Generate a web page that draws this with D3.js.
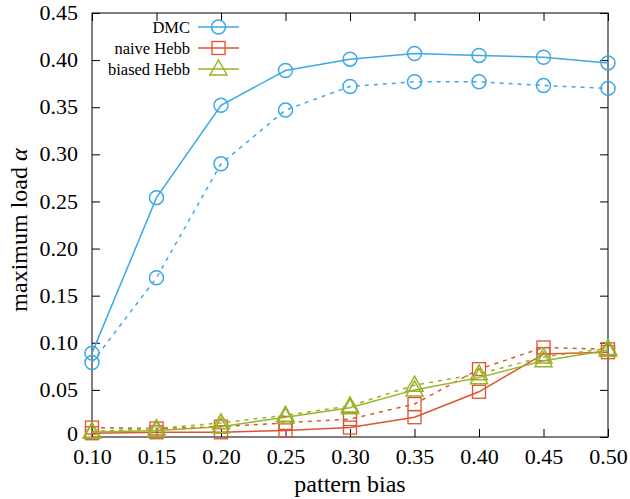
<!DOCTYPE html>
<html><head><meta charset="utf-8">
<script src="https://cdn.jsdelivr.net/npm/d3@7"></script>
<style>body{margin:0;background:#fff}svg{display:block}</style>
</head><body>
<script>
const bias = [0.10,0.15,0.20,0.25,0.30,0.35,0.40,0.45,0.50];
const dmcSolid   = [0.089,0.254,0.352,0.389,0.401,0.407,0.405,0.403,0.397];
const dmcDotted  = [0.079,0.169,0.290,0.347,0.372,0.377,0.377,0.373,0.370];
const naiveSolid = [0.004,0.005,0.005,0.007,0.010,0.021,0.048,0.088,0.090];
const naiveDotted= [0.010,0.009,0.011,0.015,0.019,0.035,0.072,0.095,0.093];
const biasSolid  = [0.005,0.007,0.011,0.021,0.031,0.050,0.063,0.081,0.092];
const biasDotted = [0.006,0.009,0.015,0.023,0.033,0.055,0.067,0.085,0.094];
const xTicks = [0.10,0.15,0.20,0.25,0.30,0.35,0.40,0.45,0.50];
const yTicks = [0,0.05,0.10,0.15,0.20,0.25,0.30,0.35,0.40,0.45];
const legendNames = ["DMC","naive Hebb","biased Hebb"];

const W=630,H=499, L=92, R=608, T=13, B=437;
const blue="#3da8e6", red="#e0532f", green="#9ab12a";
const svg=d3.select("body").append("svg").attr("width",W).attr("height",H);
const x=d3.scaleLinear().domain([0.10,0.50]).range([L,R]);
const y=d3.scaleLinear().domain([0,0.45]).range([B,T]);
const font="'Liberation Serif', 'Times New Roman', serif";

// axes
const tl=8;
const ax=svg.append("g").attr("transform",`translate(0,${B})`)
 .call(d3.axisBottom(x).tickValues(xTicks).tickFormat(d3.format(".2f")).tickSizeInner(-tl).tickSizeOuter(0).tickPadding(11));
const axT=svg.append("g").attr("transform",`translate(0,${T})`)
 .call(d3.axisTop(x).tickValues(xTicks).tickFormat("").tickSizeInner(-tl).tickSizeOuter(0));
const ay=svg.append("g").attr("transform",`translate(${L},0)`)
 .call(d3.axisLeft(y).tickValues(yTicks).tickFormat(d=>d===0?"0":d3.format(".2f")(d)).tickSizeInner(-tl).tickSizeOuter(0).tickPadding(14));
const ayR=svg.append("g").attr("transform",`translate(${R},0)`)
 .call(d3.axisRight(y).tickValues(yTicks).tickFormat("").tickSizeInner(-tl).tickSizeOuter(0));
[ax,axT,ay,ayR].forEach(g=>{g.select(".domain").remove();g.selectAll("line").attr("stroke","#000").attr("stroke-width",1);
 g.selectAll("text").attr("font-family",font).attr("font-size",22).attr("fill","#000");});
ay.selectAll("text").attr("dy",d=>d===0?"0.15em":"0.3em");
svg.append("rect").attr("x",L).attr("y",T).attr("width",R-L).attr("height",B-T).attr("fill","none").attr("stroke","#000").attr("stroke-width",1);

// labels
svg.append("text").attr("x",(L+R)/2).attr("y",492).attr("text-anchor","middle").attr("font-family",font).attr("font-size",24).text("pattern bias");
const yl=svg.append("text").attr("transform",`translate(27,230) rotate(-90)`).attr("text-anchor","middle").attr("font-family",font).attr("font-size",24);
yl.append("tspan").text("maximum load ");
yl.append("tspan").attr("font-style","italic").text("α");

const line=d3.line().x((d,i)=>x(bias[i])).y(d=>y(d));
function marker(g,type,cx,cy,col){
  if(type==="c") g.append("circle").attr("cx",cx).attr("cy",cy).attr("r",7).attr("fill","none").attr("stroke",col).attr("stroke-width",1.5);
  else if(type==="s") g.append("rect").attr("x",cx-6.5).attr("y",cy-6.5).attr("width",13).attr("height",13).attr("fill","none").attr("stroke",col).attr("stroke-width",1.3);
  else g.append("path").attr("d",`M${cx},${cy-9}L${cx+8.5},${cy+6}L${cx-8.5},${cy+6}Z`).attr("fill","none").attr("stroke",col).attr("stroke-width",1.5);
}
const series=[
 {v:naiveDotted,c:red,m:"s",d:true},{v:naiveSolid,c:red,m:"s",d:false},
 {v:biasDotted,c:green,m:"t",d:true},{v:biasSolid,c:green,m:"t",d:false},
 {v:dmcDotted,c:blue,m:"c",d:true},{v:dmcSolid,c:blue,m:"c",d:false}];
const pg=svg.append("g");
series.forEach(s=>{
  pg.append("path").attr("d",line(s.v)).attr("fill","none").attr("stroke",s.c).attr("stroke-width",1.5)
   .attr("stroke-dasharray",s.d?"4,5":null);
  s.v.forEach((v,i)=>marker(pg,s.m,x(bias[i]),y(v),s.c));
});

// legend
const lc=[blue,red,green], lm=["c","s","t"];
legendNames.forEach((n,i)=>{
  const yy=27+i*21;
  svg.append("text").attr("x",190).attr("y",yy).attr("dy","0.35em").attr("text-anchor","end").attr("font-family",font).attr("font-size",16.5).text(n);
  svg.append("line").attr("x1",198).attr("x2",239).attr("y1",yy).attr("y2",yy).attr("stroke",lc[i]).attr("stroke-width",1.5);
  marker(svg,lm[i],218.5,yy,lc[i]);
});
</script>
</body></html>
